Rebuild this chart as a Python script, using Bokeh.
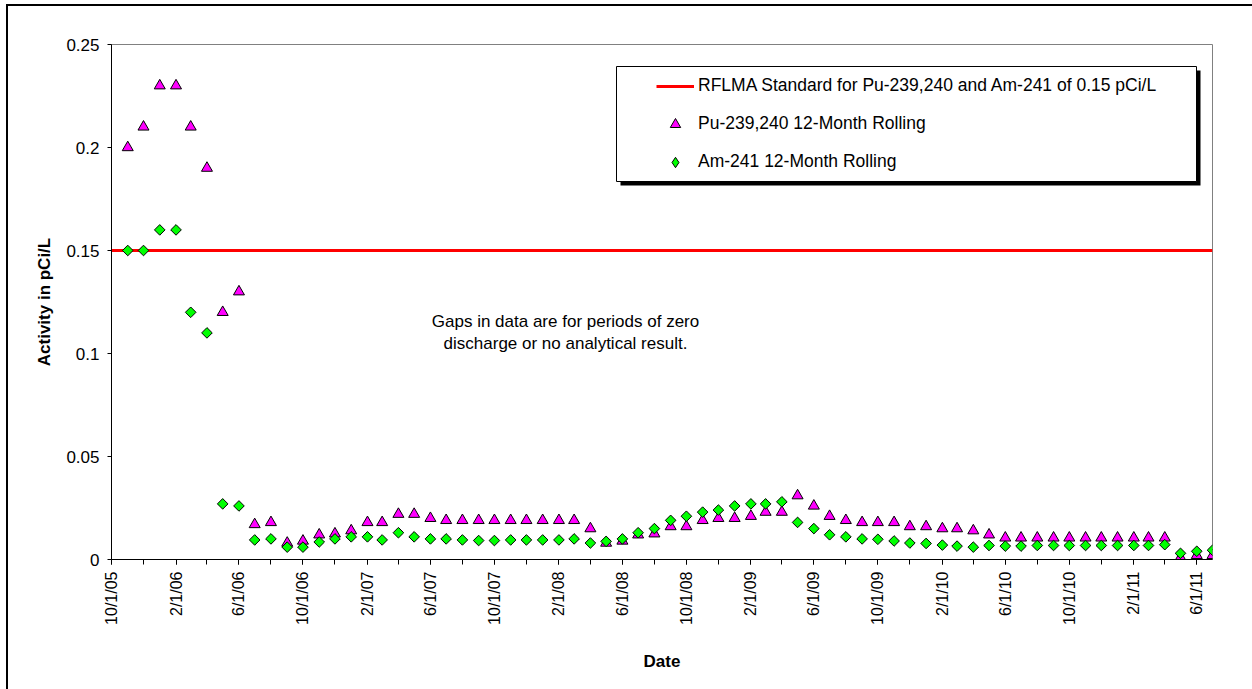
import numpy as np
import pandas as pd
from bokeh.plotting import figure
from bokeh.models import (FixedTicker, Range1d, Legend, LegendItem,
                          BoxAnnotation, Label, ColumnDataSource,
                          InlineStyleSheet)
from bokeh.embed import file_html
from bokeh.resources import INLINE

# ---------------- data ----------------
months = [
    "2005-11", "2005-12",
    "2006-01", "2006-02", "2006-03", "2006-04", "2006-05", "2006-06",
    "2006-07", "2006-08", "2006-09", "2006-10", "2006-11", "2006-12",
    "2007-01", "2007-02", "2007-03", "2007-04", "2007-05", "2007-06",
    "2007-07", "2007-08", "2007-09", "2007-10", "2007-11", "2007-12",
    "2008-01", "2008-02", "2008-03", "2008-04", "2008-05", "2008-06",
    "2008-07", "2008-08", "2008-09", "2008-10", "2008-11", "2008-12",
    "2009-01", "2009-02", "2009-03", "2009-04", "2009-05", "2009-06",
    "2009-07", "2009-08", "2009-09", "2009-10", "2009-11", "2009-12",
    "2010-01", "2010-02", "2010-03", "2010-04", "2010-05", "2010-06",
    "2010-07", "2010-08", "2010-09", "2010-10", "2010-11", "2010-12",
    "2011-01", "2011-02", "2011-03", "2011-04", "2011-05", "2011-06",
    "2011-07",
]
pu_239_240 = [
    0.200, 0.210,
    0.230, 0.230, 0.210, 0.190, 0.120, 0.130,
    0.017, 0.018, 0.008, 0.009, 0.012, 0.0125,
    0.014, 0.018, 0.018, 0.022, 0.022, 0.020,
    0.019, 0.019, 0.019, 0.019, 0.019, 0.019,
    0.019, 0.019, 0.019, 0.015, 0.008, 0.009,
    0.012, 0.0125, 0.016, 0.016, 0.019, 0.020,
    0.020, 0.021, 0.023, 0.023, 0.031, 0.026,
    0.021, 0.019, 0.018, 0.018, 0.018, 0.016,
    0.016, 0.015, 0.015, 0.014, 0.012, 0.0105,
    0.0105, 0.0105, 0.0105, 0.0105, 0.0105, 0.0105,
    0.0105, 0.0105, 0.0105, 0.0105, 0.001, 0.002,
    0.002,
]
am_241 = [
    0.150, 0.150,
    0.160, 0.160, 0.120, 0.110, 0.027, 0.026,
    0.0095, 0.010, 0.006, 0.006, 0.0085, 0.010,
    0.011, 0.011, 0.0095, 0.013, 0.011, 0.010,
    0.010, 0.0095, 0.0092, 0.0092, 0.0095, 0.0095,
    0.0095, 0.0095, 0.010, 0.008, 0.0088, 0.010,
    0.013, 0.015, 0.019, 0.021, 0.023, 0.024,
    0.026, 0.027, 0.027, 0.028, 0.018, 0.015,
    0.012, 0.011, 0.010, 0.0098, 0.009, 0.008,
    0.0078, 0.007, 0.0065, 0.006, 0.0068, 0.0065,
    0.0065, 0.0068, 0.0068, 0.0068, 0.0068, 0.0068,
    0.0068, 0.0068, 0.0068, 0.0072, 0.003, 0.004,
    0.0045,
]
rflma_standard = 0.15

x_tick_labels = ["10/1/05", "2/1/06", "6/1/06", "10/1/06", "2/1/07", "6/1/07",
                 "10/1/07", "2/1/08", "6/1/08", "10/1/08", "2/1/09", "6/1/09",
                 "10/1/09", "2/1/10", "6/1/10", "10/1/10", "2/1/11", "6/1/11"]
x_axis_start = "10/1/05"
x_axis_end = "7/1/11"
y_ticks = [0, 0.05, 0.1, 0.15, 0.2, 0.25]
y_tick_labels = ["0", "0.05", "0.1", "0.15", "0.2", "0.25"]

# ---------------- helpers ----------------
EPOCH = pd.Timestamp("1970-01-01")


def to_ms(dates):
    return [float((d - EPOCH) / pd.Timedelta(milliseconds=1)) for d in dates]


x_ms = to_ms(pd.to_datetime([m + "-01" for m in months]))
major_ms = to_ms(pd.to_datetime(x_tick_labels, format="%m/%d/%y"))
xs, xe = to_ms(pd.to_datetime([x_axis_start, x_axis_end], format="%m/%d/%y"))
minor_ms = to_ms(pd.date_range(pd.to_datetime(x_axis_start, format="%m/%d/%y"),
                               pd.to_datetime(x_axis_end, format="%m/%d/%y"),
                               freq="2MS"))

FONT = "Liberation Sans"
W, H = 1252, 689
ML, MR, MT, MB = 111, 40, 44, 130
# page coordinates of the frame
FL, FR, FT, FB = ML, W - MR, MT, H - MB


def px2x(px):
    return xs + (px - FL) / (FR - FL) * (xe - xs)


def py2y(py):
    return (FB - py) / (FB - FT) * (y_ticks[-1] - y_ticks[0]) + y_ticks[0]


# outer chart-area border (left and top edges are inside the picture)
frame_css = InlineStyleSheet(css="""
:host::after {
  content: "";
  position: absolute;
  left: 6px; top: 4px; right: 0; bottom: 0;
  border-left: 2px solid black;
  border-top: 2px solid black;
  pointer-events: none;
  z-index: 100;
}
""")

# ---------------- figure ----------------
p = figure(width=W, height=H, output_backend="svg", toolbar_location=None,
           x_range=Range1d(xs, xe), y_range=Range1d(y_ticks[0], y_ticks[-1]),
           min_border_left=ML, min_border_right=MR, min_border_top=MT,
           min_border_bottom=MB, stylesheets=[frame_css])
p.background_fill_color = "white"
p.border_fill_color = "white"
p.outline_line_color = "#808080"
p.outline_line_width = 1
p.xgrid.visible = False
p.ygrid.visible = False

# y axis
p.yaxis.ticker = FixedTicker(ticks=y_ticks, minor_ticks=[])
p.yaxis.major_label_overrides = dict(zip(y_ticks, y_tick_labels))
p.yaxis.axis_line_color = "black"
p.yaxis.major_tick_line_color = "black"
p.yaxis.major_tick_out = 4
p.yaxis.major_tick_in = 0
p.yaxis.major_label_standoff = 8
p.yaxis.major_label_text_font = FONT
p.yaxis.major_label_text_font_size = "17px"
p.yaxis.major_label_text_color = "black"
p.yaxis.axis_label = "Activity in pCi/L"
p.yaxis.axis_label_text_font = FONT
p.yaxis.axis_label_text_font_size = "17px"
p.yaxis.axis_label_text_font_style = "bold"
p.yaxis.axis_label_text_color = "black"
p.yaxis.axis_label_standoff = 9

# x axis
p.xaxis.ticker = FixedTicker(ticks=major_ms, minor_ticks=minor_ms)
p.xaxis.major_label_overrides = dict(zip(major_ms, x_tick_labels))
p.xaxis.major_label_orientation = np.pi / 2
p.xaxis.axis_line_color = "black"
p.xaxis.major_tick_line_color = "black"
p.xaxis.minor_tick_line_color = "black"
p.xaxis.major_tick_out = 5
p.xaxis.major_tick_in = 0
p.xaxis.minor_tick_out = 5
p.xaxis.minor_tick_in = 0
p.xaxis.major_label_standoff = 7
p.xaxis.major_label_text_font = FONT
p.xaxis.major_label_text_font_size = "16px"
p.xaxis.major_label_text_color = "black"
p.xaxis.axis_label = "Date"
p.xaxis.axis_label_text_font = FONT
p.xaxis.axis_label_text_font_size = "17px"
p.xaxis.axis_label_text_font_style = "bold"
p.xaxis.axis_label_text_color = "black"
p.xaxis.axis_label_standoff = 24

# ---------------- glyphs ----------------
src = ColumnDataSource(dict(x=x_ms, pu=pu_239_240, am=am_241))
std_r = p.line([xs, xe], [rflma_standard, rflma_standard], line_color="#FF0000",
               line_width=3)
pu_r = p.scatter("x", "pu", source=src, marker="triangle", size=11,
                 fill_color="#FF00FF", line_color="black", line_width=1)
am_r = p.scatter("x", "am", source=src, marker="square", angle=np.pi / 4,
                 size=7.5, fill_color="#00FF00", line_color="black",
                 line_width=1)
# legend swatch for the diamonds (legend glyphs are drawn unrotated)
am_key = p.scatter(x=[np.nan], y=[np.nan], marker="diamond",
                   fill_color="#00FF00", line_color="black", line_width=1)

# legend frame with shadow
p.add_layout(BoxAnnotation(left=px2x(620), right=px2x(1200), top=py2y(70),
                           bottom=py2y(185), fill_color="black", fill_alpha=1,
                           line_alpha=0, level="overlay"))
p.add_layout(BoxAnnotation(left=px2x(616), right=px2x(1196), top=py2y(66),
                           bottom=py2y(181), fill_color="white", fill_alpha=1,
                           line_color="black", line_width=1, line_alpha=1,
                           level="overlay"))

GH = 26
legend = Legend(items=[
    LegendItem(label="RFLMA Standard for Pu-239,240 and Am-241 of 0.15 pCi/L",
               renderers=[std_r]),
    LegendItem(label="Pu-239,240 12-Month Rolling", renderers=[pu_r]),
    LegendItem(label="Am-241 12-Month Rolling", renderers=[am_key]),
], location=(656 - FL, FB - (85.7 - GH / 2 + 3 * GH + 2 * (38 - GH))),
    padding=0, margin=0, spacing=38 - GH,
    glyph_width=38, glyph_height=GH, label_height=GH, label_standoff=4,
    label_text_font=FONT, label_text_font_size="17.5px",
    label_text_color="black", background_fill_alpha=0, border_line_alpha=0,
    level="overlay")
p.add_layout(legend, "center")

p.add_layout(Label(x=px2x(565), y=py2y(311),
                   text="Gaps in data are for periods of zero\ndischarge or no analytical result.",
                   text_align="center", text_baseline="top",
                   text_font=FONT, text_font_size="17px", text_color="black"))

open("out.html", "w").write(file_html(p, INLINE))
